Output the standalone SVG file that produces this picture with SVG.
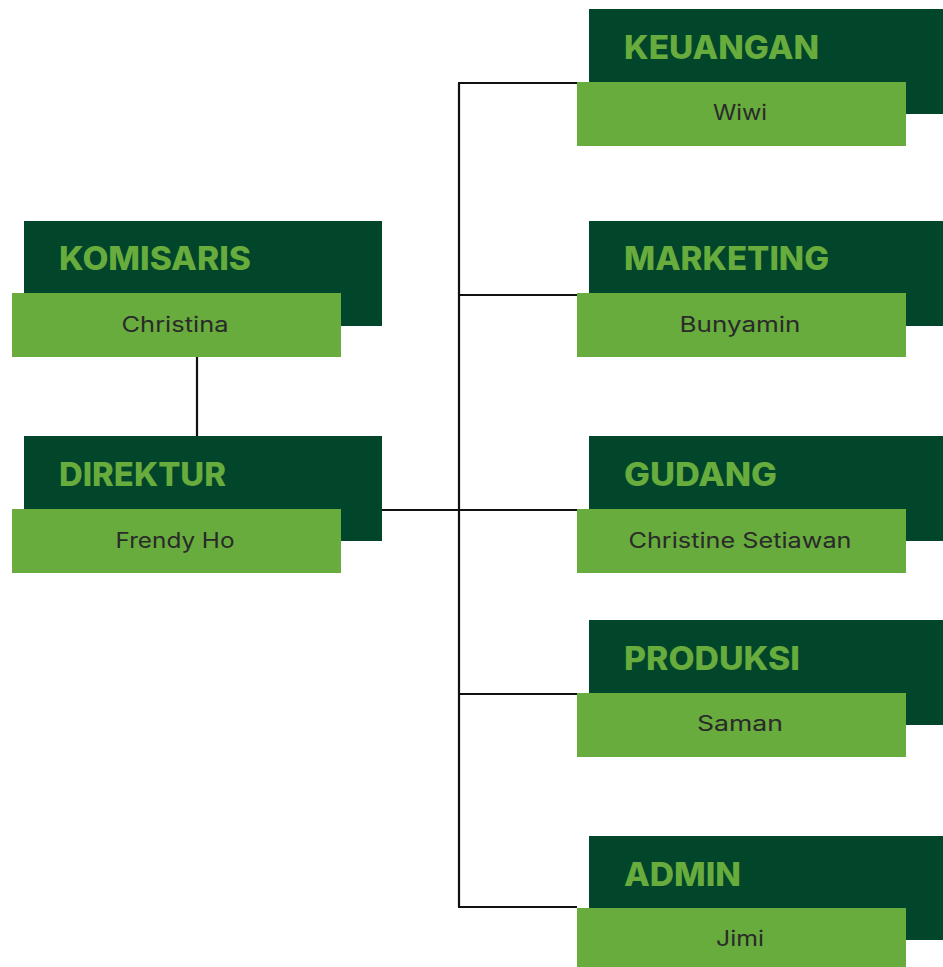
<svg xmlns="http://www.w3.org/2000/svg" width="943" height="967" viewBox="0 0 943 967">
<style>
.dark{fill:#01452B}
.light{fill:#67AC3C}
.title{font-family:Inter,"Noto Sans","Liberation Sans",sans-serif;font-weight:800;font-size:32px;fill:#67AC3C}
.name{font-family:Inter,"Noto Sans","Liberation Sans",sans-serif;font-weight:400;font-size:21px;fill:#2A2A2A;text-anchor:middle}
.conn{stroke:#111;stroke-width:2.2;fill:none}
</style>
<rect width="943" height="967" fill="#fff"/>
<g id="connectors">
<line class="conn" x1="197" y1="357" x2="197" y2="436"/>
<line class="conn" x1="382" y1="510" x2="577" y2="510"/>
<line class="conn" x1="459" y1="83" x2="459" y2="907"/>
<line class="conn" x1="458" y1="83" x2="577" y2="83"/>
<line class="conn" x1="459" y1="295" x2="577" y2="295"/>
<line class="conn" x1="459" y1="694" x2="577" y2="694"/>
<line class="conn" x1="458" y1="907" x2="577" y2="907"/>
</g>
<g id="komisaris">
<rect class="dark" x="24" y="221" width="358" height="105"/>
<rect class="light" x="12" y="293" width="329" height="64"/>
<text class="title" x="59" y="270" textLength="192" lengthAdjust="spacingAndGlyphs">KOMISARIS</text>
<text class="name" x="175" y="332" textLength="107" lengthAdjust="spacingAndGlyphs">Christina</text>
</g>
<g id="direktur">
<rect class="dark" x="24" y="436" width="358" height="105"/>
<rect class="light" x="12" y="509" width="329" height="64"/>
<text class="title" x="59" y="486" textLength="167" lengthAdjust="spacingAndGlyphs">DIREKTUR</text>
<text class="name" x="175" y="548" textLength="119" lengthAdjust="spacingAndGlyphs">Frendy Ho</text>
</g>
<g id="keuangan">
<rect class="dark" x="589" y="9" width="354" height="105"/>
<rect class="light" x="577" y="82" width="329" height="64"/>
<text class="title" x="624" y="59" textLength="195" lengthAdjust="spacingAndGlyphs">KEUANGAN</text>
<text class="name" x="740" y="120" textLength="54" lengthAdjust="spacingAndGlyphs">Wiwi</text>
</g>
<g id="marketing">
<rect class="dark" x="589" y="221" width="354" height="105"/>
<rect class="light" x="577" y="293" width="329" height="64"/>
<text class="title" x="624" y="270" textLength="205" lengthAdjust="spacingAndGlyphs">MARKETING</text>
<text class="name" x="740" y="332" textLength="121" lengthAdjust="spacingAndGlyphs">Bunyamin</text>
</g>
<g id="gudang">
<rect class="dark" x="589" y="436" width="354" height="105"/>
<rect class="light" x="577" y="509" width="329" height="64"/>
<text class="title" x="624" y="486" textLength="153" lengthAdjust="spacingAndGlyphs">GUDANG</text>
<text class="name" x="740" y="548" textLength="223" lengthAdjust="spacingAndGlyphs">Christine Setiawan</text>
</g>
<g id="produksi">
<rect class="dark" x="589" y="620" width="354" height="105"/>
<rect class="light" x="577" y="693" width="329" height="64"/>
<text class="title" x="624" y="670" textLength="176" lengthAdjust="spacingAndGlyphs">PRODUKSI</text>
<text class="name" x="740" y="731" textLength="86" lengthAdjust="spacingAndGlyphs">Saman</text>
</g>
<g id="admin">
<rect class="dark" x="589" y="836" width="354" height="104"/>
<rect class="light" x="577" y="908" width="329" height="59"/>
<text class="title" x="624" y="886" textLength="117" lengthAdjust="spacingAndGlyphs">ADMIN</text>
<text class="name" x="740" y="946" textLength="48" lengthAdjust="spacingAndGlyphs">Jimi</text>
</g>
</svg>
